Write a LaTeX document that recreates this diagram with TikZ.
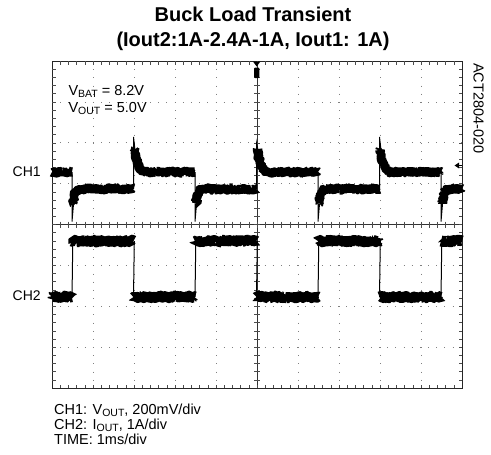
\documentclass[tikz,border=0pt]{standalone}
\usepackage{fontspec}
\setmainfont{Liberation Sans}
\usetikzlibrary{positioning,decorations.pathmorphing}
\newcommand{\xdiv}{41}
\newcommand{\ydiv}{40.875}
\newcommand{\lsub}[1]{\raisebox{-0.3ex}{\fontsize{10.5}{10.5}\selectfont #1}}
\tikzset{
    ttlsty/.style={font=\fontsize{20}{24}\selectfont\bfseries, anchor=base, inner sep=0pt},
    lblsty/.style={font=\fontsize{14}{16}\selectfont, anchor=base west, inner sep=0pt},
    infosty/.style={font=\fontsize{14.5}{17}\selectfont, anchor=base west, inner sep=0pt},
    rotsty/.style={font=\fontsize{14.5}{17}\selectfont, anchor=base west, inner sep=0pt, rotate=-90},
    framesty/.style={draw=black!85, line width=0.9pt},
    gridsty/.style={draw=black!50, line width=0.7pt, dash pattern=on 0.7pt off 7.475pt},
    axissty/.style={draw=black!80, line width=0.7pt},
    ticksty/.style={draw=black!70, line width=0.5pt},
    bandsty/.style={draw=black, line width=9.5pt, line join=bevel, decorate,
        decoration={random steps, segment length=0.9pt, amplitude=0.9pt}},
    wbandsty/.style={bandsty, line width=11pt},
    edgesty/.style={draw=black, line width=1pt},
    mksty/.style={fill=black},
}

\begin{document}
\begin{tikzpicture}[x=1pt,y=-1pt]
\useasboundingbox (0,0) rectangle (491,455);

% title
\node[ttlsty] (ttla) at (253,22) {Buck Load Transient};
\node[ttlsty] (ttlb) at (253,46.5) {(Iout2:1A-2.4A-1A, Iout1: 1A)};

% graticule
\foreach \i in {1,...,9}
    \draw[gridsty] (52+\i*\xdiv,61) -- ++(0,327);
\foreach \j in {1,...,7}
    \draw[gridsty] (52,61+\j*\ydiv) -- ++(410,0);
\draw[framesty] (52,61) rectangle (462,388);
\draw[axissty] (257,61) -- (257,388);
\draw[axissty] (52,224.5) -- (462,224.5);
\foreach \k in {1,...,49} {
    \draw[ticksty] (52+\k*8.2,61) -- ++(0,3.5);
    \draw[ticksty] (52+\k*8.2,388) -- ++(0,-3.5);
    \draw[ticksty] (52+\k*8.2,221.5) -- ++(0,6);
}
\foreach \k in {1,...,39} {
    \draw[ticksty] (52,61+\k*8.175) -- ++(3.5,0);
    \draw[ticksty] (462,61+\k*8.175) -- ++(-3.5,0);
    \draw[ticksty] (254,61+\k*8.175) -- ++(6,0);
}

% markers
\fill[mksty] (253,61.5) -- (260.4,61.5) -- (256.7,66.5) -- cycle;
\fill[mksty, rounded corners=1pt] (254,67.5) rectangle (259.4,78);
\fill[mksty] (454.5,165.5) -- (459,162.5) -- (459,168.5) -- cycle;
\draw[edgesty] (459,165.5) -- (461.5,165.5);

% CH1
\draw[bandsty] (52,172) -- (72,172);
\foreach \e/\n in {72/133.5, 195/256.5, 318/379.5, 441/462} {
    \draw[edgesty] (\e,172) -- (\e,221.5) -- (\e+1.5,204);
    \draw[bandsty] (\e+1,203) .. controls (\e+2.5,191) and (\e+5,189) .. (\e+10,189) -- (\n,189);
}
\foreach \e/\pk/\n in {133.5/137/195, 256.5/143/318, 379.5/137/441} {
    \draw[edgesty] (\e,189) -- (\e,\pk) -- (\e+1.5,150);
    \draw[bandsty] (\e+1,149) .. controls (\e+3,165) and (\e+6,171.5) .. (\e+12,172) -- (\n,172);
}

% CH2
\foreach \a/\b/\lv in {52/72/297, 72/133.5/241, 133.5/195/297, 195/256.5/241,
                       256.5/318/297, 318/379.5/241, 379.5/441/297, 441/462/241}
    \draw[wbandsty] (\a,\lv) -- (\b,\lv);
\foreach \e in {72,133.5,195,256.5,318,379.5,441}
    \draw[edgesty] (\e,297) -- (\e+0.8,241);

% labels
\node[lblsty] (ch1) at (12.5,176.5) {CH1};
\node[lblsty] (ch2) at (12.5,300) {CH2};
\node[infosty] (vbat) at (68.3,95.4) {V\lsub{BAT} = 8.2V};
\node[infosty] (vout) at (68.3,112) {V\lsub{OUT} = 5.0V};
\node[rotsty] (tag) at (473.5,63) {ACT2804-020};
\node[infosty] (note1) at (54,414.5) {CH1: V\lsub{OUT}, 200mV/div};
\node[infosty] (note2) at (54,429.5) {CH2: I\lsub{OUT}, 1A/div};
\node[infosty] (note3) at (54,444) {TIME: 1ms/div};
\end{tikzpicture}
\end{document}
